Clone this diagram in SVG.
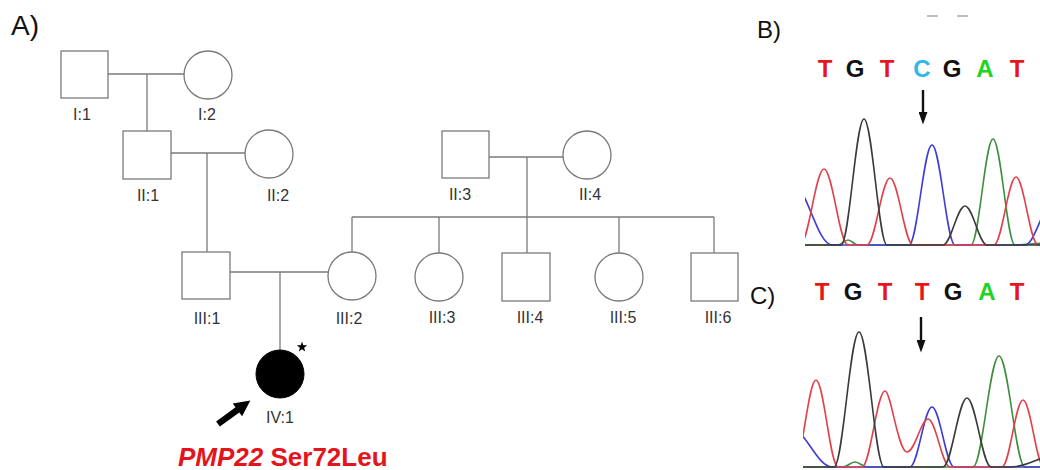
<svg xmlns="http://www.w3.org/2000/svg" width="1040" height="470" viewBox="0 0 1040 470">
  <style>
    .ln { stroke: #7a7a7a; stroke-width: 1.3; fill: none; }
    .nd { stroke: #7a7a7a; stroke-width: 1.3; fill: #ffffff; }
    .lbl { font-family: "Liberation Sans", Arial, sans-serif; font-size: 16px; fill: #333333; text-anchor: middle; }
    .panel { font-family: "Liberation Sans", Arial, sans-serif; fill: #111111; }
    .base { font-family: "Liberation Sans", Arial, sans-serif; font-size: 24px; font-weight: bold; text-anchor: middle; }
    .tr { fill: none; stroke-width: 1.6; stroke-linejoin: round; }
    .red { stroke: #e0424c; }
    .blk { stroke: #3a3a3a; }
    .blu { stroke: #3c3cd6; }
    .grn { stroke: #3e8e3e; }
  </style>
  <defs>
    <marker id="ah" viewBox="0 0 14 10" refX="9" refY="5" markerWidth="13" markerHeight="9" orient="auto" markerUnits="userSpaceOnUse">
      <path d="M0,0 L14,5 L0,10 z" fill="#111111"/>
    </marker>
    <clipPath id="clipB"><rect x="805" y="95" width="235" height="154"/></clipPath>
    <clipPath id="clipC"><rect x="803" y="315" width="237" height="155"/></clipPath>
  </defs>

  <!-- panel letters -->
  <text class="panel" x="11" y="35" font-size="28">A)</text>
  <text class="panel" x="757" y="38" font-size="24">B)</text>
  <text class="panel" x="750" y="304" font-size="24">C)</text>

  <!-- pedigree connectors -->
  <g id="connectors">
    <line class="ln" x1="108" y1="74" x2="184" y2="74"/>
    <line class="ln" x1="147" y1="74" x2="147" y2="131"/>
    <line class="ln" x1="171" y1="153" x2="245" y2="153"/>
    <line class="ln" x1="207" y1="153" x2="207" y2="252"/>
    <line class="ln" x1="489" y1="157" x2="563" y2="157"/>
    <line class="ln" x1="527" y1="157" x2="527" y2="217"/>
    <line class="ln" x1="352" y1="217" x2="714" y2="217"/>
    <line class="ln" x1="352" y1="217" x2="352" y2="252"/>
    <line class="ln" x1="439" y1="217" x2="439" y2="253"/>
    <line class="ln" x1="527" y1="217" x2="527" y2="253"/>
    <line class="ln" x1="619" y1="217" x2="619" y2="253"/>
    <line class="ln" x1="714" y1="217" x2="714" y2="253"/>
    <line class="ln" x1="230" y1="272" x2="328" y2="272"/>
    <line class="ln" x1="280" y1="272" x2="280" y2="350"/>
  </g>

  <!-- generation I -->
  <g id="I-1"><rect class="nd" x="61" y="51" width="47" height="47"/><text class="lbl" x="82" y="120">I:1</text></g>
  <g id="I-2"><circle class="nd" cx="208" cy="75" r="24"/><text class="lbl" x="207" y="120">I:2</text></g>

  <!-- generation II -->
  <g id="II-1"><rect class="nd" x="123" y="131" width="48" height="48"/><text class="lbl" x="148" y="201">II:1</text></g>
  <g id="II-2"><circle class="nd" cx="269" cy="154" r="24"/><text class="lbl" x="278" y="201">II:2</text></g>
  <g id="II-3"><rect class="nd" x="442" y="131" width="47" height="47"/><text class="lbl" x="460" y="200">II:3</text></g>
  <g id="II-4"><circle class="nd" cx="587" cy="155" r="24"/><text class="lbl" x="590" y="200">II:4</text></g>

  <!-- generation III -->
  <g id="III-1"><rect class="nd" x="182" y="252" width="48" height="47"/><text class="lbl" x="207" y="324">III:1</text></g>
  <g id="III-2"><circle class="nd" cx="352" cy="276" r="24"/><text class="lbl" x="349" y="324">III:2</text></g>
  <g id="III-3"><circle class="nd" cx="439" cy="277" r="24"/><text class="lbl" x="442" y="323">III:3</text></g>
  <g id="III-4"><rect class="nd" x="502" y="253" width="48" height="48"/><text class="lbl" x="530" y="323">III:4</text></g>
  <g id="III-5"><circle class="nd" cx="619" cy="277" r="24"/><text class="lbl" x="623" y="323">III:5</text></g>
  <g id="III-6"><rect class="nd" x="691" y="253" width="47" height="48"/><text class="lbl" x="718" y="323">III:6</text></g>

  <!-- proband -->
  <g id="IV-1">
    <circle cx="280" cy="374" r="24" fill="#000000" stroke="#000000" stroke-width="1"/>
    <polygon transform="translate(302,347)" fill="#000000" points="0,-5.5 1.29,-1.78 5.23,-1.7 2.09,0.68 3.23,4.45 0,2.2 -3.23,4.45 -2.09,0.68 -5.23,-1.7 -1.29,-1.78"/>
    <polygon transform="translate(218,424) rotate(-36)" fill="#000000" points="0,-3.2 24,-3.2 24,-8 40,0 24,8 24,3.2 0,3.2"/>
    <text class="lbl" x="280" y="423">IV:1</text>
  </g>

  <text id="variant" x="178" y="466" font-family="'Liberation Sans', Arial, sans-serif" font-size="26" font-weight="bold" fill="#e3141c"><tspan font-style="italic">PMP22</tspan> Ser72Leu</text>

  <!-- panel B: reference sequence -->
  <g id="seqB">
    <line x1="927" y1="16" x2="938" y2="16" stroke="#bdbdbd" stroke-width="2"/>
    <line x1="957" y1="16" x2="968" y2="16" stroke="#bdbdbd" stroke-width="2"/>
    <text class="base" x="825" y="77" fill="#e8161b">T</text>
    <text class="base" x="855" y="77" fill="#111111">G</text>
    <text class="base" x="887" y="77" fill="#e8161b">T</text>
    <text class="base" x="922" y="77" fill="#2fb8e8">C</text>
    <text class="base" x="952" y="77" fill="#111111">G</text>
    <text class="base" x="985" y="77" fill="#22d422">A</text>
    <text class="base" x="1017" y="77" fill="#e8161b">T</text>
    <line x1="923" y1="90" x2="923" y2="120" stroke="#111111" stroke-width="2.4" marker-end="url(#ah)"/>
    <g clip-path="url(#clipB)">
      <path class="tr grn" d="M800,245 L838,245 C841.6,245 844.4,240 848,240 C851.6,240 854.4,245 858,245 L971,245 C978.9,245 985.1,139 993,139 C1000.9,139 1007.1,245 1015,245 L1045,243"/>
      <path class="tr blu" d="M748,245 C763.1,245 774.8,180 790,180 C805.2,180 816.9,245 832,245 L909,245 C917.3,245 923.7,145 932,145 C940.3,145 946.7,245 955,245 L1025,245 C1034.7,245 1042.2,205 1052,205"/>
      <path class="tr red" d="M790,245 L800,245 C808.6,245 815.4,169 824,169 C832.6,169 839.4,245 848,245 L867,245 C875.3,245 881.7,178 890,178 C898.3,178 904.7,245 913,245 L994,245 C1001.9,245 1008.1,177 1016,177 C1023.9,177 1030.1,245 1038,245 L1045,245"/>
      <path class="tr blk" d="M800,245 L841,245 C849.3,245 855.7,119 864,119 C872.3,119 878.7,245 887,245 L943,245 C950.9,245 957.1,206 965,206 C972.9,206 979.1,245 987,245 L1045,245"/>
    </g>
  </g>

  <!-- panel C: patient sequence -->
  <g id="seqC">
    <text class="base" x="822" y="300" fill="#e8161b">T</text>
    <text class="base" x="853" y="300" fill="#111111">G</text>
    <text class="base" x="885" y="300" fill="#e8161b">T</text>
    <text class="base" x="922" y="300" fill="#e8161b">T</text>
    <text class="base" x="953" y="300" fill="#111111">G</text>
    <text class="base" x="987" y="300" fill="#22d422">A</text>
    <text class="base" x="1017" y="300" fill="#e8161b">T</text>
    <line x1="921" y1="317" x2="921" y2="348" stroke="#111111" stroke-width="2.4" marker-end="url(#ah)"/>
    <g clip-path="url(#clipC)">
      <path class="tr grn" d="M780,467 L843,467 C847.3,467 850.6,462 855,462 C859.4,462 862.7,467 867,467 L973,467 C982.4,467 989.6,356 999,356 C1008.4,356 1015.6,467 1025,467 L1045,467"/>
      <path class="tr blu" d="M748,467 C763.1,467 774.8,428 790,428 C805.2,428 816.9,467 832,467 L910,467 C917.9,467 924.1,407 932,407 C939.9,407 946.1,467 954,467 L1045,467"/>
      <path class="tr red" d="M780,467 L794,467 C801.9,467 808.1,380 816,380 C823.9,380 830.1,467 838,467 L862,467 C870.3,467 876.7,391 885,391 C891,391 898,452 907,452 C915,452 921,419 928,419 C935.9,419 942.1,467 950,467 L1002,467 C1009.6,467 1015.4,400 1023,400 C1030.6,400 1036.4,467 1044,467"/>
      <path class="tr blk" d="M780,467 L834,467 C843,467 850,332 859,332 C868,332 875,467 884,467 L943,467 C951.6,467 958.4,398 967,398 C975.6,398 982.4,467 991,467 L1010,467 C1025,467 1035,460 1045,457"/>
    </g>
  </g>
</svg>
